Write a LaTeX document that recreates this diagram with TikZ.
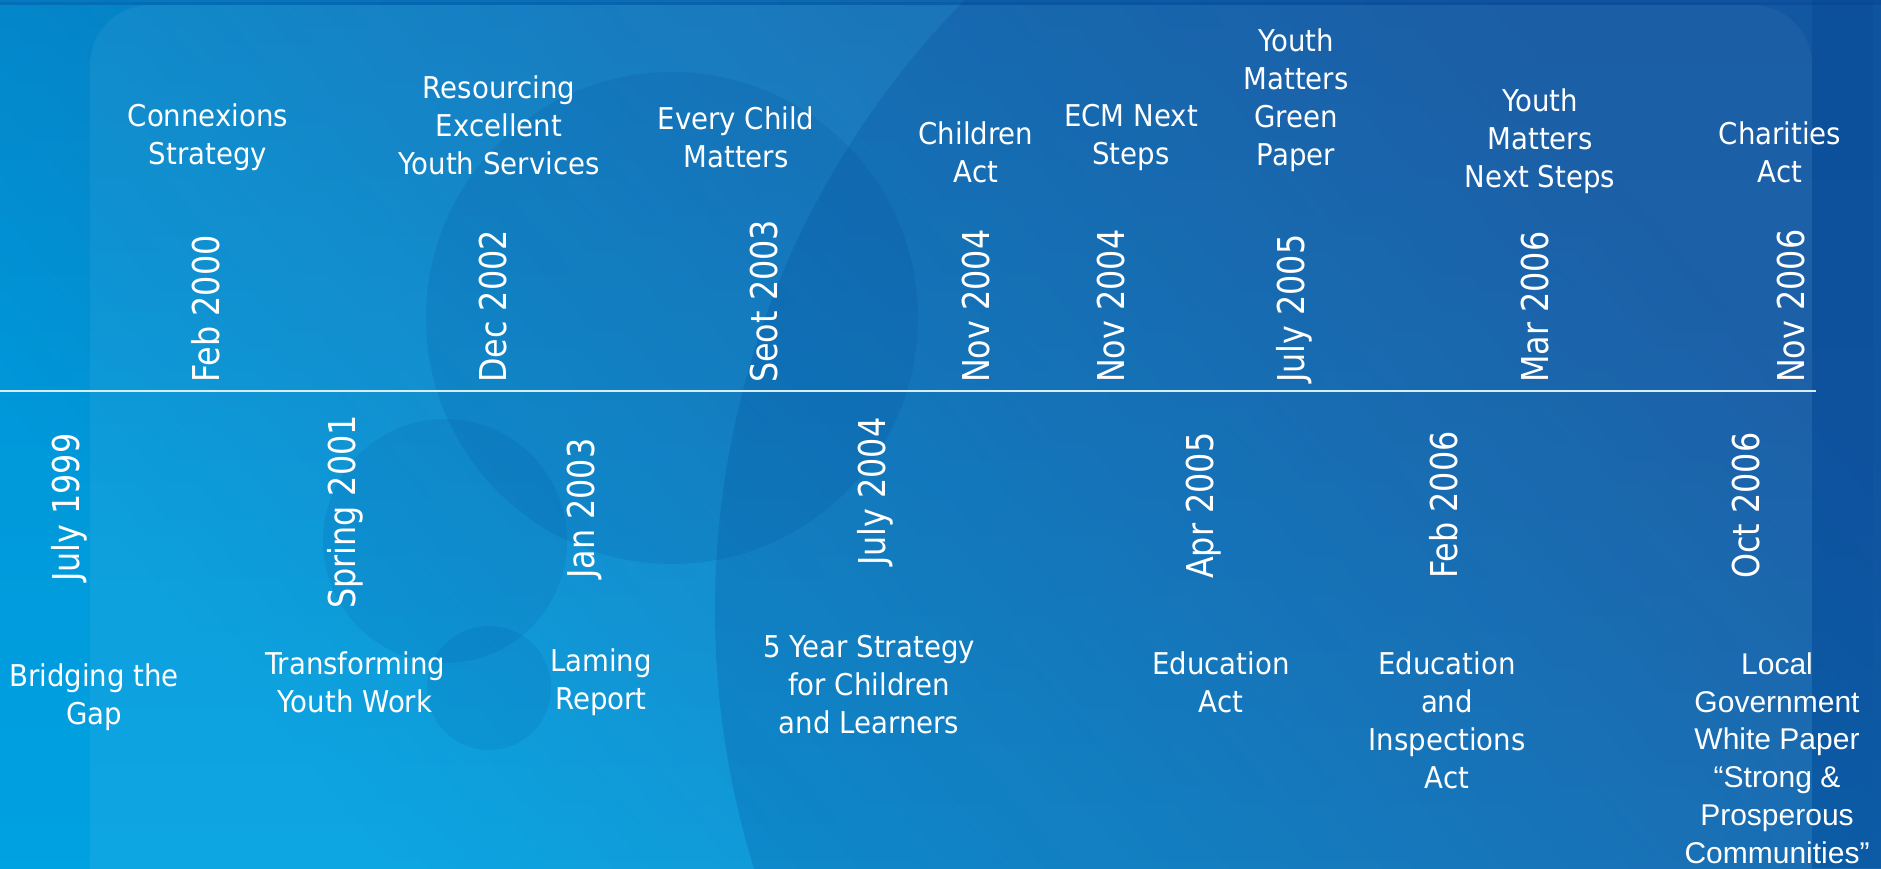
\documentclass[tikz,border=0pt]{standalone}
\usepackage{fontspec}
\usetikzlibrary{fadings}
\setmainfont{DejaVu Sans}
\newfontfamily\labelfont[FakeStretch=0.92]{DejaVu Sans}
\newfontfamily\datefont[FakeStretch=0.86]{DejaVu Sans}
\newfontfamily\arialfont{Liberation Sans}
\definecolor{bgA}{HTML}{00A2E2}
\definecolor{bgB}{HTML}{1C66AE}
\definecolor{deep}{HTML}{003C8C}
\definecolor{linec}{HTML}{D6EEFA}
\tikzfading[name=fadedown, top color=transparent!0, bottom color=transparent!100]
\tikzset{
  lab/.style={text=white, align=center, inner sep=0pt, font=\labelfont\fontsize{30}{38}\selectfont},
  alab/.style={text=white, align=center, inner sep=0pt, font=\arialfont\fontsize{30}{37.8}\selectfont},
  datelab/.style={text=white, rotate=90, anchor=west, inner sep=0pt, font=\datefont\fontsize{37}{40}\selectfont},
}
\begin{document}
\begin{tikzpicture}[x=1pt,y=-1pt]
\useasboundingbox (0,0) rectangle (1881,868);
\begin{scope}
\clip (0,0) rectangle (1881,868);
% background
\shade[top color=bgB, bottom color=bgA, shading angle=-50] (0,0) rectangle (1881,868);
\fill[deep, opacity=0.18, path fading=fadedown] (0,0) rectangle (1881,868);
\fill[white, opacity=0.05, rounded corners=60pt] (90,5) rectangle (1812,1000);
\fill[deep, opacity=0.18] (1585,610) circle (870);
\fill[deep, opacity=0.12] (672,318) circle (246);
\fill[deep, opacity=0.10] (445,541) circle (122);
\fill[deep, opacity=0.10] (489,688) circle (62);
\fill[deep, opacity=0.28] (1812,0) rectangle (1881,868);
\fill[deep, opacity=0.30] (0,0) rectangle (1881,5);
\end{scope}

% timeline
\coordinate (L0) at (0,391);
\coordinate (L1) at (1816,391);
\draw[linec, line width=2.5pt] (L0) -- (L1);

% top labels
\node[lab] (t1) at (208,137) {Connexions\\Strategy};
\node[lab] (t2) at (499,125) {Resourcing\\Excellent\\Youth Services};
\node[lab] (t3) at (736,137) {Every Child\\Matters};
\node[lab] (t4) at (976,152) {Children\\Act};
\node[lab] (t5) at (1131,137) {ECM Next\\Steps};
\node[lab] (t6) at (1296,100) {Youth\\Matters\\Green\\Paper};
\node[lab] (t7) at (1540,141) {Youth\\Matters\\Next Steps};
\node[lab] (t8) at (1780,152) {Charities\\Act};

% top dates
\node[datelab] (d1) at (206,383) {Feb 2000};
\node[datelab] (d2) at (493,383) {Dec 2002};
\node[datelab] (d3) at (764,383) {Seot 2003};
\node[datelab] (d4) at (976,383) {Nov 2004};
\node[datelab] (d5) at (1111,383) {Nov 2004};
\node[datelab] (d6) at (1294,383) {July 2005};
\node[datelab] (d7) at (1535,383) {Mar 2006};
\node[datelab] (d8) at (1791,383) {Nov 2006};

% bottom dates
\node[datelab] (e1) at (69,582) {July 1999};
\node[datelab] (e2) at (345,609) {Spring 2001};
\node[datelab] (e3) at (584,579) {Jan 2003};
\node[datelab] (e4) at (875,566) {July 2004};
\node[datelab] (e5) at (1204,579) {Apr 2005};
\node[datelab] (e6) at (1444,579) {Feb 2006};
\node[datelab] (e7) at (1746,579) {Oct 2006};

% bottom labels
\node[lab] (b1) at (94,697) {Bridging the\\Gap};
\node[lab] (b2) at (355,682) {Transforming\\Youth Work};
\node[lab] (b3) at (601,682) {Laming\\Report};
\node[lab] (b4) at (869,685) {5 Year Strategy\\for Children\\and Learners};
\node[lab] (b5) at (1221,682) {Education\\Act};
\node[lab] (b6) at (1447,720) {Education\\and\\Inspections\\Act};
\node[alab] (b7) at (1777,758) {Local\\Government\\White Paper\\“Strong \&\\Prosperous\\Communities”};
\end{tikzpicture}
\end{document}
